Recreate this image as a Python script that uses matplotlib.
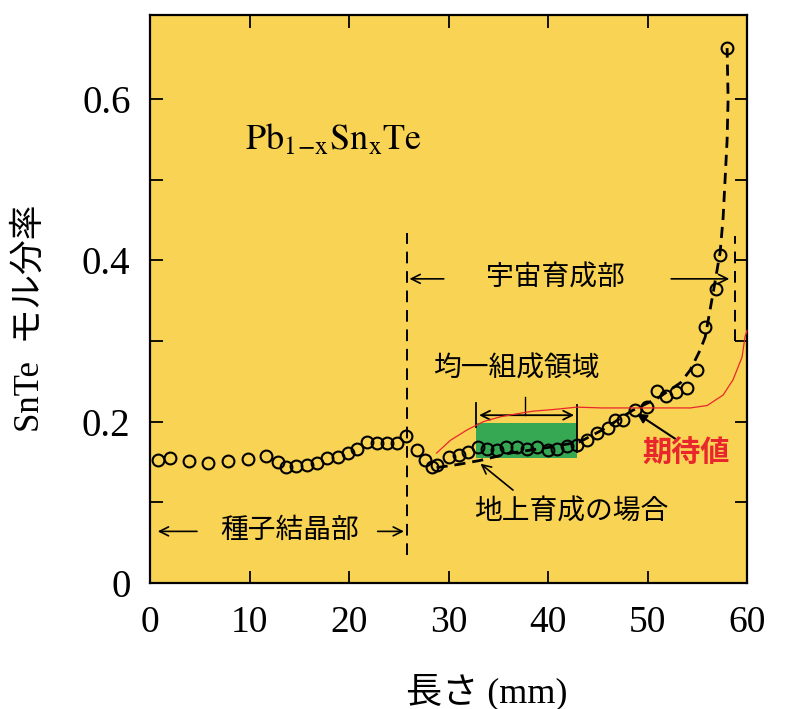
import matplotlib
matplotlib.use('Agg')
import matplotlib.pyplot as plt
from matplotlib.patches import Rectangle

plt.rcParams['font.family'] = ['Liberation Serif', 'Noto Sans CJK JP']
plt.rcParams['mathtext.fontset'] = 'stix'

# measured points: length (mm) vs SnTe mole fraction
length = [0.8, 2.0, 3.9, 5.8, 7.8, 9.8, 11.7, 12.9, 13.7, 14.7, 15.8, 16.8, 17.8, 18.9,
          19.9, 20.8, 21.8, 22.8, 23.8, 24.8, 25.7, 26.8, 27.6, 28.3, 28.8, 30.0, 31.1,
          32.0, 33.0, 33.9, 34.9, 35.8, 36.9, 37.9, 38.9, 40.0, 40.9, 41.9, 42.9, 43.9,
          44.9, 46.0, 46.7, 47.5, 48.7, 49.9, 51.0, 51.9, 52.9, 54.0, 55.0, 55.8, 56.9,
          57.3, 58.0]
frac = [0.152, 0.155, 0.151, 0.149, 0.151, 0.154, 0.157, 0.150, 0.144, 0.145, 0.146, 0.149,
        0.155, 0.156, 0.161, 0.166, 0.175, 0.174, 0.174, 0.174, 0.182, 0.165, 0.152, 0.144,
        0.146, 0.156, 0.159, 0.162, 0.169, 0.166, 0.165, 0.169, 0.169, 0.166, 0.169, 0.165,
        0.166, 0.170, 0.171, 0.177, 0.186, 0.192, 0.202, 0.202, 0.214, 0.218, 0.238, 0.232,
        0.237, 0.242, 0.264, 0.317, 0.365, 0.406, 0.663]

# dashed curve (ground growth)
ground_x = [28.8, 31.0, 33.2, 36.2, 40.0, 43.2, 45.5, 48.5, 51.0, 53.3, 54.3, 55.3, 55.8,
            56.6, 57.3, 57.6, 58.0, 58.1, 58.0]
ground_y = [0.143, 0.147, 0.152, 0.161, 0.168, 0.175, 0.190, 0.214, 0.229, 0.248, 0.264,
            0.289, 0.305, 0.360, 0.410, 0.453, 0.549, 0.600, 0.663]

# red curve (expected value)
expect_x = [28.8, 30.2, 31.9, 33.5, 35.2, 37.0, 38.5, 40.5, 42.9, 45.4, 48.0, 51.0, 54.3,
            56.0, 57.6, 58.6, 59.5, 59.8, 60.0]
expect_y = [0.161, 0.177, 0.190, 0.200, 0.206, 0.210, 0.213, 0.215, 0.218, 0.217, 0.217,
            0.217, 0.217, 0.220, 0.233, 0.252, 0.280, 0.305, 0.313]

seed_end = 25.8
space_end = 58.8
uniform_x = (32.8, 42.9)
uniform_y = (0.155, 0.198)

xticks = [0, 10, 20, 30, 40, 50, 60]
yticks = [0, 0.2, 0.4, 0.6]
yticklabels = ['0', '0.2', '0.4', '0.6']

fig = plt.figure(figsize=(7.85, 7.09), dpi=100)
ax = fig.add_axes([0.1911, 0.1777, 0.7605, 0.8011])
ax.set_facecolor('#f9d354')
ax.set_xlim(0, 60)
ax.set_ylim(0, 0.704)

# uniform composition region
ax.add_patch(Rectangle((uniform_x[0], uniform_y[0]), uniform_x[1] - uniform_x[0],
                       uniform_y[1] - uniform_y[0], color='#36a853', zorder=1, lw=0))

ax.plot(ground_x, ground_y, color='black', lw=2.0, dashes=(4, 2.5), zorder=2)
ax.plot(expect_x, expect_y, color='#e8262c', lw=0.9, zorder=4, clip_on=False)
ax.plot(length, frac, 'o', ms=8.5, mfc='none', mec='black', mew=1.5, zorder=3)

# section boundaries
ax.plot([seed_end, seed_end], [0.035, 0.434], color='black', lw=1.4, dashes=(6, 4))
ax.plot([space_end, space_end], [0.300, 0.430], color='black', lw=1.4, dashes=(6, 4))

arrow = dict(arrowstyle='->', color='black', lw=1.2, mutation_scale=16)
# seed crystal part
ax.annotate('', xy=(0.5, 0.064), xytext=(5.0, 0.064), arrowprops=arrow)
ax.annotate('', xy=(seed_end, 0.064), xytext=(22.6, 0.064), arrowprops=arrow)
ax.text(14.0, 0.064, '種子結晶部', ha='center', va='center', fontsize=20)
# space growth part
ax.annotate('', xy=(seed_end, 0.377), xytext=(29.8, 0.377), arrowprops=arrow)
ax.annotate('', xy=(58.5, 0.377), xytext=(52.1, 0.377), arrowprops=arrow)
ax.text(40.7, 0.377, '宇宙育成部', ha='center', va='center', fontsize=20)

# uniform region bracket
ax.annotate('', xy=(uniform_x[0], 0.208), xytext=(uniform_x[1], 0.208),
            arrowprops=dict(arrowstyle='<->', color='black', lw=1.3, mutation_scale=16))
ax.plot([uniform_x[0], uniform_x[0]], [0.193, 0.223], color='black', lw=1.3)
ax.plot([uniform_x[1], uniform_x[1]], [0.162, 0.221], color='black', lw=1.3)
ax.plot([37.7, 37.7], [0.208, 0.230], color='black', lw=1.0)
ax.text(36.8, 0.264, '均一組成領域', ha='center', va='center', fontsize=20)

ax.annotate('', xy=(33.0, 0.150), xytext=(36.7, 0.113), arrowprops=arrow)
ax.text(42.3, 0.087, '地上育成の場合', ha='center', va='center', fontsize=20)

ax.annotate('', xy=(48.7, 0.212), xytext=(53.0, 0.177),
            arrowprops=dict(arrowstyle='-|>', color='black', lw=1.5, mutation_scale=14))
ax.text(53.9, 0.161, '期待値', ha='center', va='center', fontsize=21,
        color='#e8262c', fontweight='bold', family='Noto Sans CJK JP')

ax.text(9.5, 0.549, r'$\mathrm{Pb_{1\!-\!x}Sn_xTe}$', ha='left', va='center', fontsize=26)

ax.set_xticks(xticks)
ax.set_xticklabels([str(t) for t in xticks])
ax.set_yticks(yticks)
ax.set_yticklabels(yticklabels)
ax.set_yticks([0.1, 0.3, 0.5], minor=True)
ax.tick_params(which='both', direction='in', top=True, right=True, length=9, width=1.3)
ax.tick_params(axis='x', labelsize=27, pad=16)
ax.tick_params(axis='y', labelsize=28, pad=14)
for s in ax.spines.values():
    s.set_linewidth(1.6)

fig.text(30 / 785, 1 - 318 / 709, 'SnTe  モル分率', rotation=90, ha='center', va='center',
         fontsize=25)
fig.text(487 / 785, 1 - 692 / 709, '長さ (mm)', ha='center', va='center', fontsize=26)

fig.savefig('out.png', dpi=100, facecolor='white')
